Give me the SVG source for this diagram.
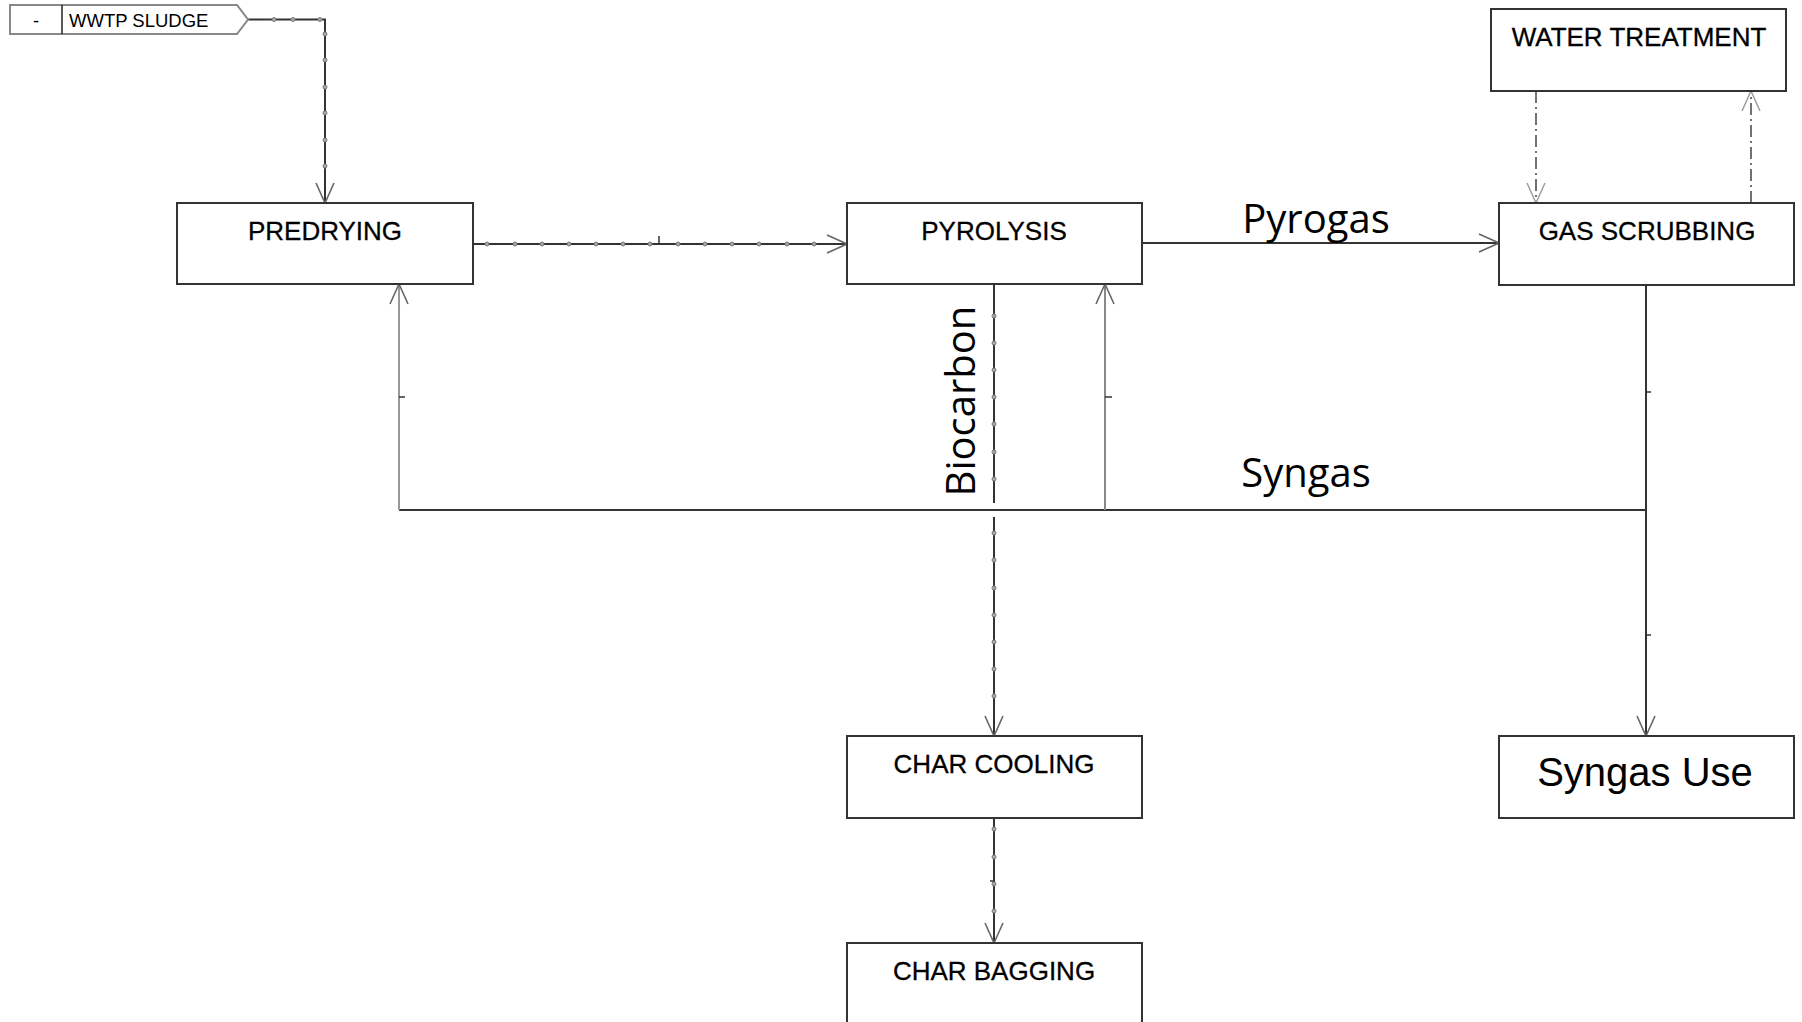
<svg xmlns="http://www.w3.org/2000/svg" width="1802" height="1022" viewBox="0 0 1802 1022">
<style>
.box{fill:#fff;stroke:#333;stroke-width:2}
.lbl{font-family:"Liberation Sans",Arial,sans-serif;font-size:26px;fill:#000;text-anchor:middle;stroke:#000;stroke-width:0.3}
.big{font-family:"Open Sans","Noto Sans",sans-serif;font-size:40px;fill:#000;text-anchor:middle}
.ln{fill:none;stroke:#333;stroke-width:2}
.lg{fill:none;stroke:#999;stroke-width:2}
.dd{fill:none;stroke:#444;stroke-width:1.5;stroke-dasharray:12 4 2 4}
.dot{fill:#aaa;stroke:#777;stroke-width:1}
.tk{stroke:#333;stroke-width:1.5}
</style>
<defs>
<marker id="ah" viewBox="0 0 22 20" refX="21" refY="10" markerWidth="22" markerHeight="20" markerUnits="userSpaceOnUse" orient="auto">
<path d="M1,1 L21,10 L1,19" fill="none" stroke="#666" stroke-width="1.6"/>
</marker>
<marker id="ahl" viewBox="0 0 22 20" refX="21" refY="10" markerWidth="22" markerHeight="20" markerUnits="userSpaceOnUse" orient="auto">
<path d="M1,1 L21,10 L1,19" fill="none" stroke="#999" stroke-width="1.4"/>
</marker>
</defs>
<rect width="1802" height="1022" fill="#fff"/>

<g id="connectors">
  <!-- WWTP sludge to predrying -->
  <path class="ln" d="M248,19.5 H325 V203" marker-end="url(#ah)"/>
  <g class="dot">
    <circle cx="274" cy="19.5" r="2"/><circle cx="293" cy="19.5" r="2"/><circle cx="320" cy="19.5" r="2"/>
    <circle cx="325" cy="34" r="2"/><circle cx="325" cy="60" r="2"/><circle cx="325" cy="87" r="2"/>
    <circle cx="325" cy="113" r="2"/><circle cx="325" cy="140" r="2"/><circle cx="325" cy="166" r="2"/>
  </g>
  <!-- predrying to pyrolysis -->
  <path class="ln" d="M473,244 H847" marker-end="url(#ah)"/>
  <line class="tk" x1="659" y1="236" x2="659" y2="244"/>
  <g class="dot">
    <circle cx="487" cy="244" r="2"/><circle cx="515" cy="244" r="2"/><circle cx="542" cy="244" r="2"/>
    <circle cx="569" cy="244" r="2"/><circle cx="596" cy="244" r="2"/><circle cx="623" cy="244" r="2"/>
    <circle cx="650" cy="244" r="2"/><circle cx="678" cy="244" r="2"/><circle cx="705" cy="244" r="2"/>
    <circle cx="732" cy="244" r="2"/><circle cx="759" cy="244" r="2"/><circle cx="787" cy="244" r="2"/>
    <circle cx="814" cy="244" r="2"/>
  </g>
  <!-- pyrolysis to gas scrubbing (Pyrogas) -->
  <path class="ln" d="M1142,243 H1499" marker-end="url(#ah)"/>
  <!-- water treatment loops -->
  <path class="dd" d="M1536,91 V203" marker-end="url(#ahl)"/>
  <path class="dd" d="M1751,203 V91" marker-end="url(#ahl)"/>
  <!-- syngas from gas scrubbing down to syngas use -->
  <path class="ln" d="M1646,285 V736" marker-end="url(#ah)"/>
  <line class="tk" x1="1646" y1="392" x2="1651" y2="392"/>
  <line class="tk" x1="1646" y1="635" x2="1651" y2="635"/>
  <!-- syngas header -->
  <path class="ln" d="M1646,510 H399"/>
  <!-- syngas return to predrying -->
  <path class="lg" d="M399,510 V284" marker-end="url(#ah)"/>
  <line class="tk" x1="399" y1="397" x2="405" y2="397"/>
  <!-- syngas return to pyrolysis -->
  <path class="lg" d="M1105,510 V284" marker-end="url(#ah)" style="stroke:#888"/>
  <line class="tk" x1="1105" y1="397" x2="1112" y2="397"/>
  <!-- biocarbon -->
  <path class="ln" d="M994,284 V503"/>
  <path class="ln" d="M994,517 V736" marker-end="url(#ah)"/>
  <g class="dot">
    <circle cx="994" cy="316" r="2"/><circle cx="994" cy="343" r="2"/><circle cx="994" cy="370" r="2"/>
    <circle cx="994" cy="397" r="2"/><circle cx="994" cy="424" r="2"/><circle cx="994" cy="452" r="2"/>
    <circle cx="994" cy="479" r="2"/>
    <circle cx="994" cy="533" r="2"/><circle cx="994" cy="560" r="2"/><circle cx="994" cy="588" r="2"/>
    <circle cx="994" cy="615" r="2"/><circle cx="994" cy="642" r="2"/><circle cx="994" cy="669" r="2"/>
    <circle cx="994" cy="696" r="2"/>
  </g>
  <!-- char cooling to char bagging -->
  <path class="ln" d="M994,818 V943" marker-end="url(#ah)"/>
  <line class="tk" x1="990" y1="881" x2="994" y2="881"/>
  <g class="dot">
    <circle cx="994" cy="829" r="2"/><circle cx="994" cy="857" r="2"/><circle cx="994" cy="884" r="2"/>
    <circle cx="994" cy="911" r="2"/>
  </g>
  <!-- connector labels -->
  <text class="big" x="1316" y="233">Pyrogas</text>
  <text class="big" x="1306" y="487">Syngas</text>
  <text class="big" transform="translate(975,401) rotate(-90)">Biocarbon</text>
</g>

<g id="wwtp-sludge">
  <path d="M10,5 H237 L248,19.5 L237,34 H10 Z" fill="#fff" stroke="#888" stroke-width="2"/>
  <line x1="62" y1="5" x2="62" y2="34" stroke="#222" stroke-width="1.5"/>
  <text x="36" y="27" font-family="'Liberation Sans',Arial,sans-serif" font-size="18.5" text-anchor="middle" fill="#000">-</text>
  <text x="69" y="27" font-family="'Liberation Sans',Arial,sans-serif" font-size="18.5" fill="#000">WWTP SLUDGE</text>
</g>

<g id="predrying">
  <rect class="box" x="177" y="203" width="296" height="81"/>
  <text class="lbl" x="325" y="240">PREDRYING</text>
</g>

<g id="pyrolysis">
  <rect class="box" x="847" y="203" width="295" height="81"/>
  <text class="lbl" x="994" y="240">PYROLYSIS</text>
</g>

<g id="gas-scrubbing">
  <rect class="box" x="1499" y="203" width="295" height="82"/>
  <text class="lbl" x="1647" y="240">GAS SCRUBBING</text>
</g>

<g id="water-treatment">
  <rect class="box" x="1491" y="9" width="295" height="82"/>
  <text class="lbl" x="1639" y="46">WATER TREATMENT</text>
</g>

<g id="char-cooling">
  <rect class="box" x="847" y="736" width="295" height="82"/>
  <text class="lbl" x="994" y="773">CHAR COOLING</text>
</g>

<g id="char-bagging">
  <rect class="box" x="847" y="943" width="295" height="100"/>
  <text class="lbl" x="994" y="980">CHAR BAGGING</text>
</g>

<g id="syngas-use">
  <rect class="box" x="1499" y="736" width="295" height="82"/>
  <text x="1645" y="786" font-family="'Liberation Sans',Arial,sans-serif" font-size="40" text-anchor="middle" fill="#000">Syngas Use</text>
</g>
</svg>
